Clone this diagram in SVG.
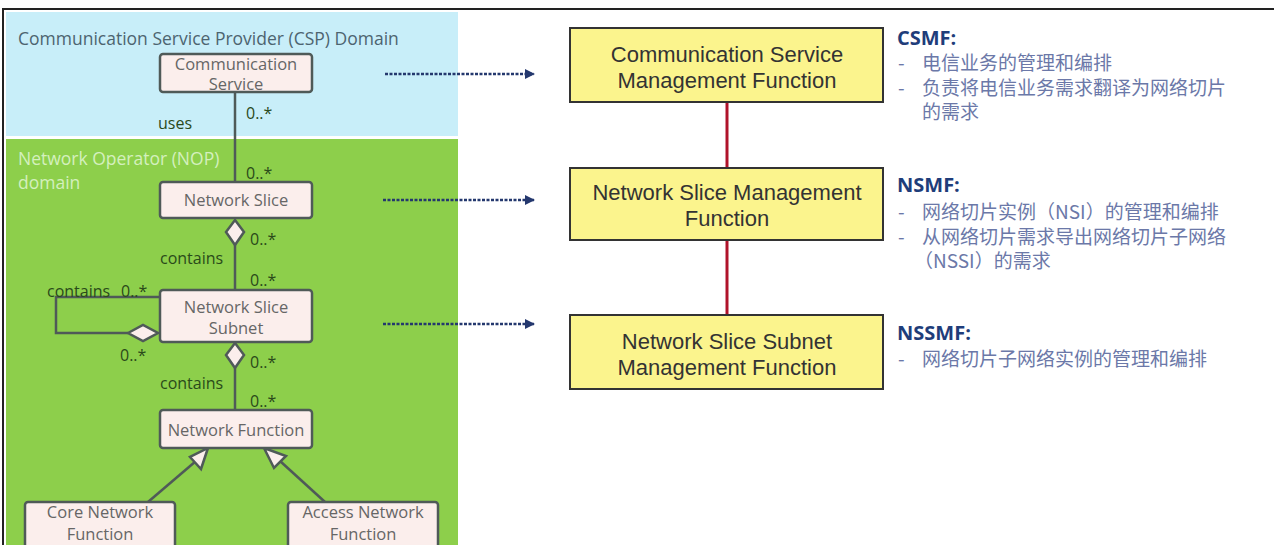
<svg xmlns="http://www.w3.org/2000/svg" width="1274" height="545" viewBox="0 0 1274 545">
<defs>
<style>
.uml{fill:#fbeeec;stroke:#4f5a58;stroke-width:2.5}
.umlt{font-family:"Open Sans","DejaVu Sans",sans-serif;font-size:16.5px;fill:#666;text-anchor:middle}
.lbl{font-family:"Open Sans","DejaVu Sans",sans-serif;font-size:16px;fill:#2a4a1a}
.mf{fill:#fbf48d;stroke:#333;stroke-width:2}
.mft{font-family:"Liberation Sans",Arial,sans-serif;font-size:22px;fill:#333;text-anchor:middle}
.hd{font-family:"Open Sans","DejaVu Sans",sans-serif;font-size:20px;font-weight:bold;fill:#1f3d7a}
.ds{font-family:"Noto Sans CJK SC",sans-serif;font-size:19px;fill:#6b78a8}
.ln{stroke:#4f5a58;stroke-width:2.5;fill:none}
.dash{stroke:#24386e;stroke-width:2.5;stroke-dasharray:3 1.5;fill:none}
.red{stroke:#b0132a;stroke-width:3}
.dom{font-family:"Open Sans","DejaVu Sans",sans-serif;font-size:17.5px}
</style>
<marker id="ah" viewBox="0 0 10 10" refX="9" refY="5" markerWidth="4" markerHeight="4" orient="auto">
<path d="M0,0 L10,5 L0,10 z" fill="#24386e"/>
</marker>
</defs>
<rect x="0" y="0" width="1274" height="545" fill="#fff"/>
<rect x="3" y="9" width="1272" height="540" fill="none" stroke="#222" stroke-width="2"/>
<rect x="6" y="12" width="452" height="124" fill="#c8eef9"/>
<rect x="6" y="139" width="452" height="406" fill="#8dcf4b"/>
<text class="dom" x="18" y="45" fill="#4d6470">Communication Service Provider (CSP) Domain</text>
<text class="dom" x="18" y="165" fill="#d4f0be">Network Operator (NOP)</text>
<text class="dom" x="18" y="189" fill="#d4f0be">domain</text>

<g id="connectors">
<line class="ln" x1="235" y1="92" x2="235" y2="182"/>
<line class="ln" x1="235" y1="244" x2="235" y2="290"/>
<polygon points="235,220 244,232 235,245 226,232" fill="#fbeeec" stroke="#4f5a58" stroke-width="2.5"/>
<line class="ln" x1="235" y1="368" x2="235" y2="410"/>
<polygon points="235,343 244,355 235,368 226,355" fill="#fbeeec" stroke="#4f5a58" stroke-width="2.5"/>
<polyline class="ln" points="160,297 56,297 56,333 128,333"/>
<polygon points="128,333 143,325 158,333 143,341" fill="#fbeeec" stroke="#4f5a58" stroke-width="2.5"/>
<line class="ln" x1="148" y1="502" x2="196" y2="461"/>
<polygon points="208,448 201,469 190,457" fill="#fbeeec" stroke="#4f5a58" stroke-width="2.5"/>
<line class="ln" x1="325" y1="502" x2="280" y2="461"/>
<polygon points="264,448 286,456 274,468" fill="#fbeeec" stroke="#4f5a58" stroke-width="2.5"/>
<line class="dash" x1="385" y1="74" x2="534" y2="74" marker-end="url(#ah)"/>
<line class="dash" x1="383" y1="200" x2="534" y2="200" marker-end="url(#ah)"/>
<line class="dash" x1="383" y1="324" x2="534" y2="324" marker-end="url(#ah)"/>
<line class="red" x1="727" y1="102" x2="727" y2="168"/>
<line class="red" x1="727" y1="240" x2="727" y2="315"/>
<text class="lbl" x="158" y="129">uses</text>
<text class="lbl" x="246" y="119">0..*</text>
<text class="lbl" x="246" y="179">0..*</text>
<text class="lbl" x="250" y="245">0..*</text>
<text class="lbl" x="160" y="264">contains</text>
<text class="lbl" x="250" y="286">0..*</text>
<text class="lbl" x="47" y="297">contains</text>
<text class="lbl" x="121" y="297">0..*</text>
<text class="lbl" x="120" y="361">0..*</text>
<text class="lbl" x="250" y="368">0..*</text>
<text class="lbl" x="160" y="389">contains</text>
<text class="lbl" x="250" y="407">0..*</text>
</g>

<g id="cs"><rect class="uml" x="160" y="54" width="152" height="38" rx="3"/><text class="umlt" x="236" y="70">Communication</text><text class="umlt" x="236" y="90">Service</text></g>
<g id="ns"><rect class="uml" x="160" y="182" width="152" height="36" rx="3"/><text class="umlt" x="236" y="206">Network Slice</text></g>
<g id="nss"><rect class="uml" x="160" y="290" width="152" height="52" rx="3"/><text class="umlt" x="236" y="313">Network Slice</text><text class="umlt" x="236" y="334">Subnet</text></g>
<g id="nf"><rect class="uml" x="160" y="410" width="152" height="38" rx="3"/><text class="umlt" x="236" y="436">Network Function</text></g>
<g id="cnf"><rect class="uml" x="25" y="502" width="150" height="46" rx="3"/><text class="umlt" x="100" y="518">Core Network</text><text class="umlt" x="100" y="540">Function</text></g>
<g id="anf"><rect class="uml" x="288" y="502" width="150" height="46" rx="3"/><text class="umlt" x="363" y="518">Access Network</text><text class="umlt" x="363" y="540">Function</text></g>

<g id="csmf"><rect class="mf" x="570" y="28" width="313" height="74"/><text class="mft" x="727" y="62">Communication Service</text><text class="mft" x="727" y="88">Management Function</text></g>
<g id="nsmf"><rect class="mf" x="570" y="168" width="313" height="72"/><text class="mft" x="727" y="200">Network Slice Management</text><text class="mft" x="727" y="226">Function</text></g>
<g id="nssmf"><rect class="mf" x="570" y="315" width="313" height="74"/><text class="mft" x="727" y="349">Network Slice Subnet</text><text class="mft" x="727" y="375">Management Function</text></g>

<g id="desc-csmf">
<text class="hd" x="897" y="45">CSMF:</text>
<text class="ds" x="898" y="70">-</text><text class="ds" x="922" y="70">电信业务的管理和编排</text>
<text class="ds" x="898" y="95">-</text><text class="ds" x="922" y="95">负责将电信业务需求翻译为网络切片</text>
<text class="ds" x="922" y="119">的需求</text>
</g>
<g id="desc-nsmf">
<text class="hd" x="897" y="192">NSMF:</text>
<text class="ds" x="898" y="219">-</text><text class="ds" x="922" y="219">网络切片实例（NSI）的管理和编排</text>
<text class="ds" x="898" y="244">-</text><text class="ds" x="922" y="244">从网络切片需求导出网络切片子网络</text>
<text class="ds" x="914" y="268">（NSSI）的需求</text>
</g>
<g id="desc-nssmf">
<text class="hd" x="897" y="340">NSSMF:</text>
<text class="ds" x="898" y="366">-</text><text class="ds" x="922" y="366">网络切片子网络实例的管理和编排</text>
</g>
</svg>
